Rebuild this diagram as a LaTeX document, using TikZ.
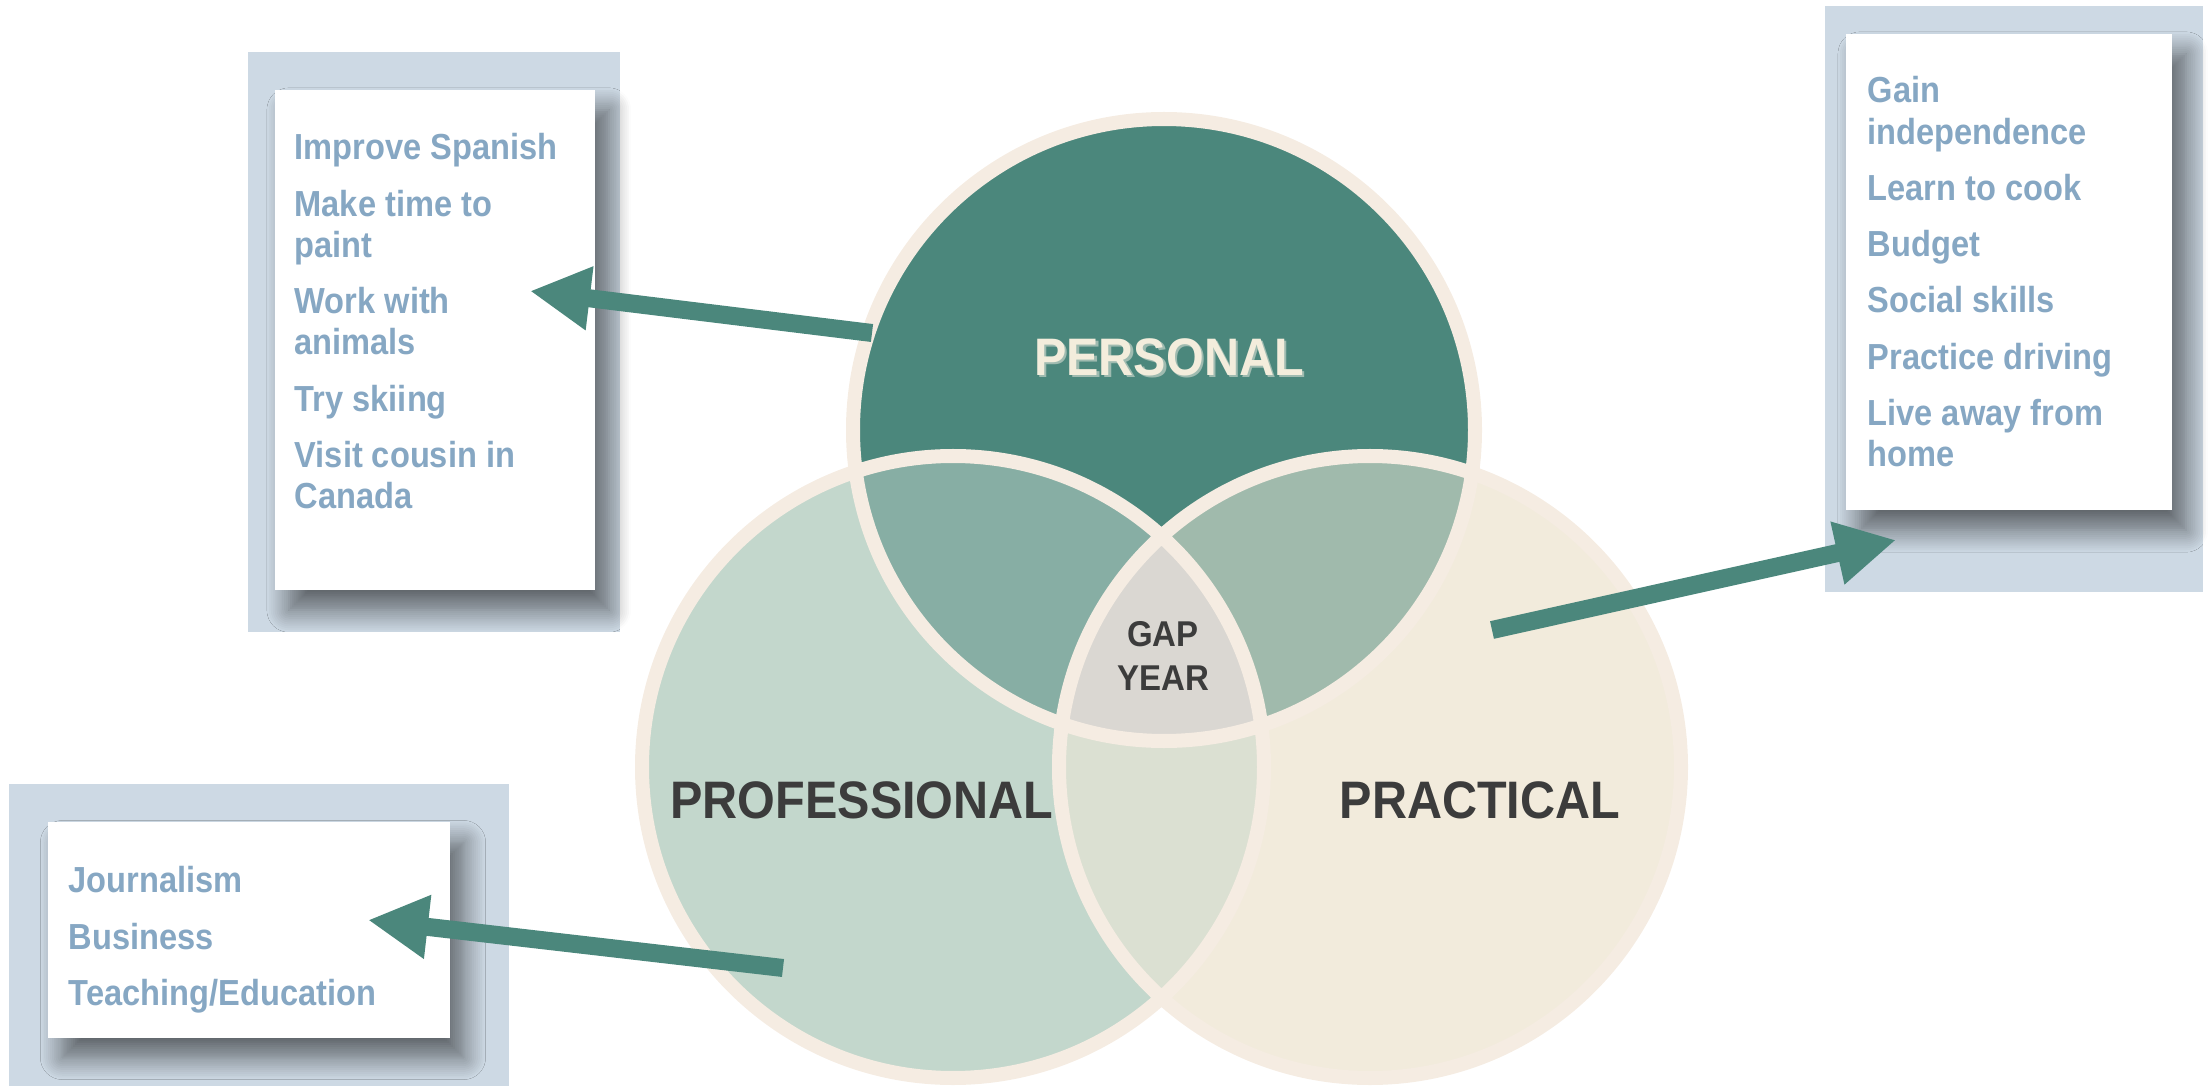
\documentclass[tikz,border=0pt]{standalone}
\usepackage{fontspec}
\setmainfont{Liberation Sans}
\newfontfamily\listfont[FakeStretch=0.9]{Liberation Sans}
\newfontfamily\labelfont[FakeStretch=0.92]{Liberation Sans}
\usetikzlibrary{arrows.meta,shadows.blur}

\definecolor{personalfill}{RGB}{75, 135, 124}
\definecolor{professionalfill}{RGB}{195, 215, 204}
\definecolor{practicalfill}{RGB}{242, 235, 220}
\definecolor{persprof}{RGB}{135, 174, 164}
\definecolor{perspract}{RGB}{160, 186, 172}
\definecolor{profpract}{RGB}{219, 224, 210}
\definecolor{gapfill}{RGB}{218, 215, 210}
\definecolor{ringline}{RGB}{245, 236, 226}
\definecolor{boxbg}{RGB}{205, 217, 228}
\definecolor{itemtext}{RGB}{134, 167, 195}
\definecolor{labeltext}{RGB}{60, 60, 60}
\definecolor{personaltext}{RGB}{243, 237, 220}
\definecolor{personalshade}{RGB}{159, 187, 176}

\tikzset{
  listbg/.style={fill=boxbg, inner sep=0pt},
  listcard/.style={fill=white, inner sep=0pt,
    blur shadow={shadow xshift=0.14cm, shadow yshift=-0.2cm, shadow blur radius=0.22cm,
      shadow blur steps=12, shadow opacity=55}},
  listtext/.style={anchor=north west, inner sep=0pt, align=left, text=itemtext,
    font=\listfont\bfseries\fontsize{10.3}{11.7}\selectfont},
  biglabel/.style={inner sep=0pt, text=labeltext, font=\labelfont\bfseries\fontsize{15}{16}\selectfont},
  pointer/.style={draw=personalfill, line width=0.18cm, -{Triangle[length=0.6cm, width=0.6cm]}}
}

\begin{document}
\begin{tikzpicture}[x=0.01cm, y=-0.01cm]
  \useasboundingbox (0, 0) rectangle (2211, 1091);

  % list boxes
  \node[listbg, minimum width=3.72cm, minimum height=5.8cm] (personalbg) at (434, 342) {};
  \node[listbg, minimum width=3.77cm, minimum height=5.86cm] (practicalbg) at (2014, 299) {};
  \node[listbg, minimum width=4.99cm, minimum height=3.02cm] (professionalbg) at (259, 935) {};

  \node[listcard, minimum width=3.2cm, minimum height=5cm] (personalcard) at (435, 340) {};
  \node[listcard, minimum width=3.26cm, minimum height=4.76cm] (practicalcard) at (2009, 272) {};
  \node[listcard, minimum width=4.01cm, minimum height=2.15cm] (professionalcard) at (249, 930) {};

  \node[listtext] (personallist) at (294, 133) {Improve Spanish\\[4.3pt]
    Make time to\\paint\\[4.3pt]
    Work with\\animals\\[4.3pt]
    Try skiing\\[4.3pt]
    Visit cousin in\\Canada};
  \node[listtext] (practicallist) at (1867, 76) {Gain\\independence\\[4.3pt]
    Learn to cook\\[4.3pt]
    Budget\\[4.3pt]
    Social skills\\[4.3pt]
    Practice driving\\[4.3pt]
    Live away from\\home};
  \node[listtext] (professionallist) at (68, 866) {Journalism\\[4.3pt]
    Business\\[4.3pt]
    Teaching/Education};

  % venn circles
  \def\personalring{(1164, 430) circle [radius=311]}
  \def\professionalring{(953, 767) circle [radius=311]}
  \def\practicalring{(1370, 767) circle [radius=311]}

  \fill[personalfill] \personalring;
  \fill[professionalfill] \professionalring;
  \fill[practicalfill] \practicalring;
  \begin{scope}
    \clip \personalring;
    \fill[persprof] \professionalring;
    \fill[perspract] \practicalring;
  \end{scope}
  \begin{scope}
    \clip \professionalring;
    \fill[profpract] \practicalring;
    \clip \personalring;
    \fill[gapfill] \practicalring;
  \end{scope}
  \draw[ringline, line width=0.14cm] \personalring \professionalring \practicalring;

  % arrows
  \coordinate (personaltail) at (872, 333);
  \coordinate (personaltip) at (530, 291);
  \coordinate (practicaltail) at (1492, 630);
  \coordinate (practicaltip) at (1896, 540);
  \coordinate (professionaltail) at (783, 968);
  \coordinate (professionaltip) at (368, 920);
  \draw[pointer] (personaltail) -- (personaltip);
  \draw[pointer] (practicaltail) -- (practicaltip);
  \draw[pointer] (professionaltail) -- (professionaltip);

  % labels
  \node[biglabel, text=personalshade] (personalshadow) at (1171.5, 359.5) {PERSONAL};
  \node[biglabel, text=personaltext] (personallabel) at (1169, 357) {PERSONAL};
  \node[biglabel] (professionallabel) at (862, 800) {PROFESSIONAL};
  \node[biglabel] (practicallabel) at (1480, 800) {PRACTICAL};
  \node[biglabel, align=center, font=\labelfont\bfseries\fontsize{10.2}{12.5}\selectfont] (gaplabel) at (1163, 656) {GAP\\YEAR};
\end{tikzpicture}
\end{document}
